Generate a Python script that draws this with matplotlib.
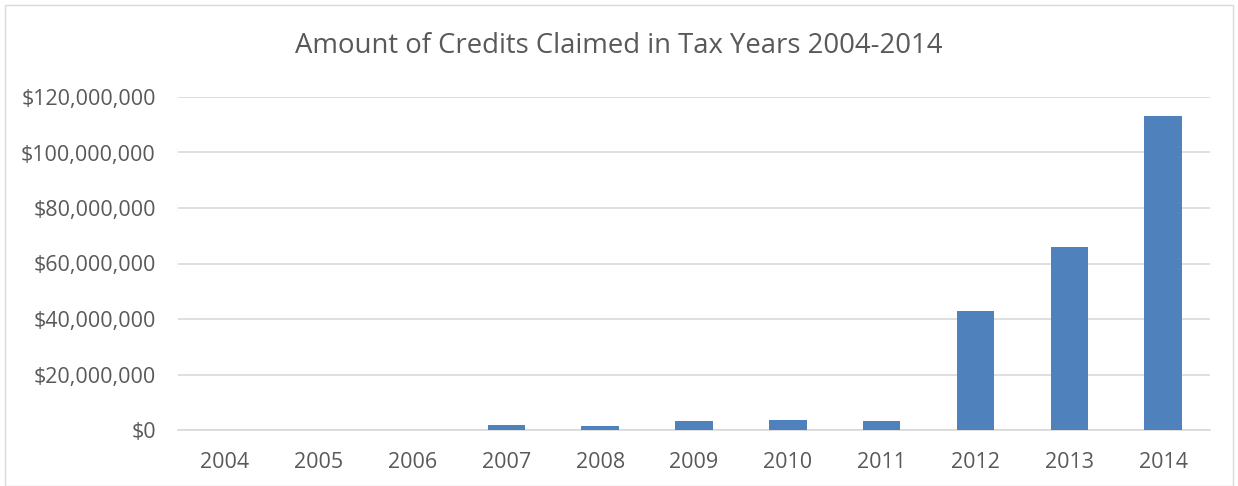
import matplotlib
matplotlib.use("Agg")
import matplotlib.pyplot as plt
from matplotlib.patches import Rectangle
from matplotlib.ticker import FuncFormatter

years = ["2004", "2005", "2006", "2007", "2008", "2009", "2010", "2011", "2012", "2013", "2014"]
credits = [0, 0, 0, 1.9e6, 1.6e6, 3.2e6, 3.7e6, 3.1e6, 42.9e6, 65.9e6, 113.2e6]
yticks = [0, 20e6, 40e6, 60e6, 80e6, 100e6, 120e6]

W, H = 1238, 486
fig = plt.figure(figsize=(W / 100, H / 100), dpi=100)
ax = fig.add_axes([178 / W, 1 - 430 / H, (1210 - 178) / W, (430 - 97) / H])

font = "Open Sans"
txt = "#595959"
x = range(len(years))
ax.bar(x, credits, width=0.4, color="#4f81bd", zorder=3)
ax.set_xlim(-0.5, len(years) - 0.5)
ax.set_ylim(0, 120e6)
ax.set_yticks(yticks)
ax.yaxis.set_major_formatter(FuncFormatter(lambda v, p: "${:,.0f}".format(v)))
ax.set_xticks(list(x))
ax.set_xticklabels(years)
ax.grid(axis="y", color="#d9d9d9", linewidth=1.2, zorder=0)
for s in ["top", "right", "left"]:
    ax.spines[s].set_visible(False)
ax.spines["bottom"].set_color("#d9d9d9")
ax.spines["bottom"].set_linewidth(1.2)
ax.tick_params(axis="both", length=0, labelsize=15.5, labelcolor=txt)
ax.tick_params(axis="y", pad=16)
ax.tick_params(axis="x", pad=16)
for lab in ax.get_xticklabels() + ax.get_yticklabels():
    lab.set_fontfamily(font)

fig.text(0.5, 1 - 46 / H, "Amount of Credits Claimed in Tax Years 2004-2014",
         ha="center", va="center", fontsize=19.8, color=txt, family=font)

fig.patches.append(Rectangle((5 / W, 0), (W - 10) / W, 1 - 5 / H, transform=fig.transFigure,
                             fill=False, edgecolor="#d9d9d9", linewidth=1))

fig.savefig("out.png", dpi=100)
